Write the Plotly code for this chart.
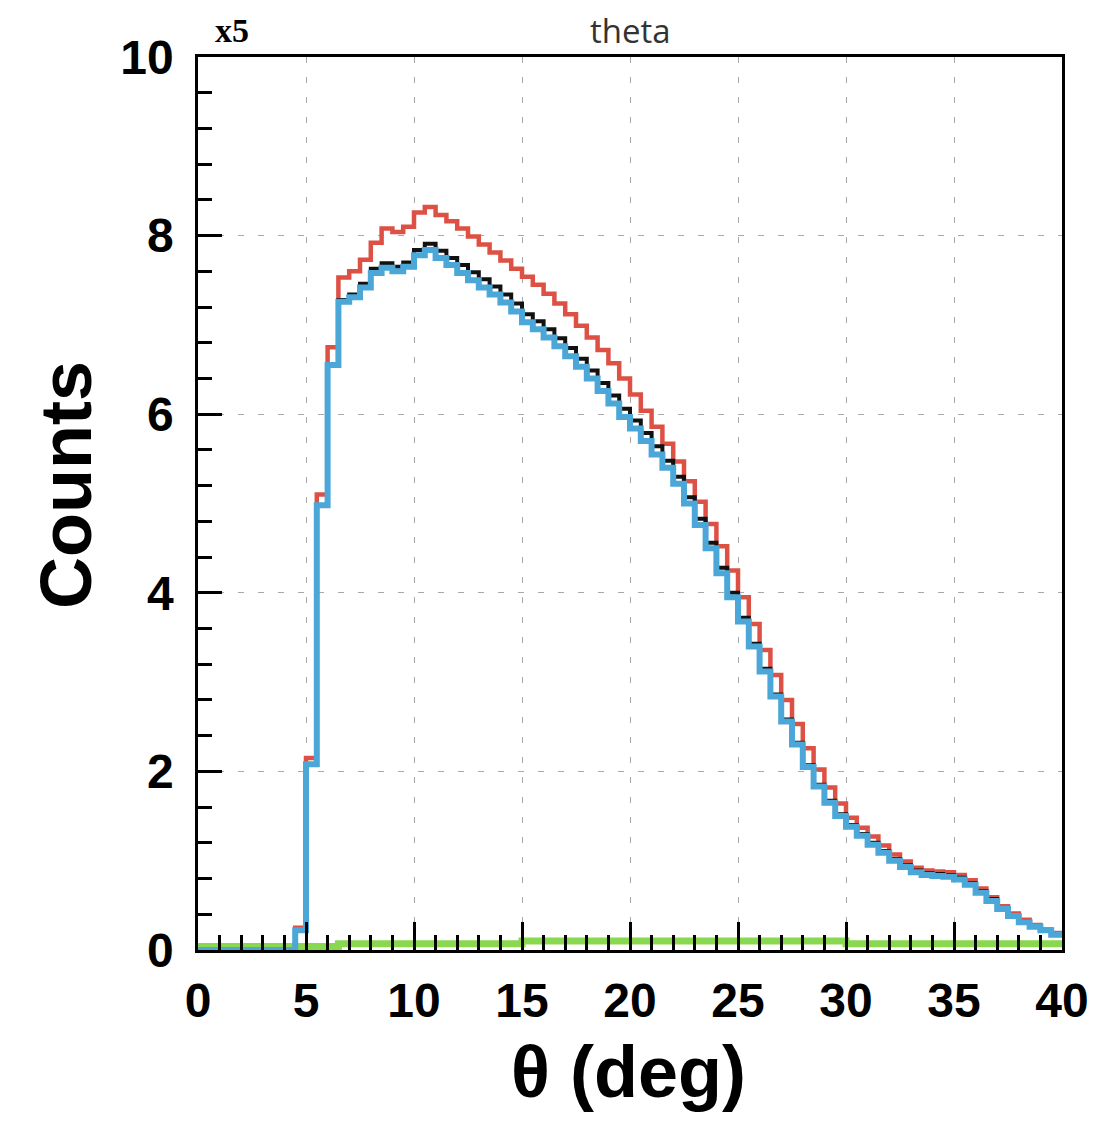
import plotly.graph_objects as go

# ---- data (bin low edges of 0.5 deg bins, 0-40 deg) ----
bin_low = [i * 0.5 for i in range(80)]
x_max = 40.0

blue_vals = [0, 0, 0, 0, 0, 0, 0, 0, 0,
             0.22, 2.08, 4.98, 6.55, 7.26, 7.31, 7.42, 7.58, 7.64, 7.60,
             7.65, 7.78, 7.84, 7.75, 7.67, 7.58, 7.50, 7.42, 7.34, 7.25,
             7.15, 7.03, 6.95, 6.86, 6.76, 6.65, 6.53, 6.40, 6.26, 6.12,
             5.97, 5.84, 5.70, 5.55, 5.40, 5.22, 5.00, 4.76, 4.50, 4.22,
             3.95, 3.68, 3.40, 3.12, 2.84, 2.56, 2.30, 2.05, 1.83, 1.65,
             1.50, 1.38, 1.28, 1.18, 1.09, 1.00, 0.93, 0.87, 0.84, 0.83,
             0.82, 0.79, 0.73, 0.64, 0.55, 0.46, 0.38, 0.31, 0.26, 0.22,
             0.17]

black_vals = [0, 0, 0, 0, 0, 0, 0, 0, 0,
              0.22, 2.08, 4.98, 6.55, 7.28, 7.34, 7.46, 7.63, 7.69, 7.65,
              7.70, 7.84, 7.91, 7.83, 7.75, 7.67, 7.59, 7.51, 7.43, 7.34,
              7.24, 7.12, 7.04, 6.95, 6.85, 6.74, 6.62, 6.49, 6.35, 6.21,
              6.06, 5.93, 5.79, 5.64, 5.48, 5.30, 5.07, 4.83, 4.56, 4.28,
              4.00, 3.72, 3.43, 3.15, 2.86, 2.58, 2.32, 2.07, 1.85, 1.67,
              1.52, 1.40, 1.30, 1.20, 1.11, 1.02, 0.95, 0.89, 0.86, 0.85,
              0.84, 0.81, 0.75, 0.66, 0.57, 0.47, 0.39, 0.32, 0.27, 0.22,
              0.18]

red_vals = [0, 0, 0, 0, 0, 0, 0, 0, 0,
            0.25, 2.15, 5.10, 6.75, 7.53, 7.60, 7.73, 7.92, 8.08, 8.04,
            8.10, 8.26, 8.32, 8.23, 8.16, 8.08, 7.99, 7.90, 7.81, 7.72,
            7.63, 7.54, 7.45, 7.35, 7.24, 7.12, 6.99, 6.86, 6.72, 6.57,
            6.40, 6.22, 6.04, 5.86, 5.67, 5.47, 5.25, 5.02, 4.77, 4.52,
            4.25, 3.95, 3.65, 3.36, 3.08, 2.80, 2.53, 2.26, 2.02, 1.82,
            1.64, 1.48, 1.37, 1.27, 1.17, 1.07, 0.99, 0.92, 0.89, 0.88,
            0.87, 0.84, 0.78, 0.69, 0.59, 0.49, 0.41, 0.34, 0.28, 0.23,
            0.19]

green_vals = [0.04] * 13 + [0.07] * 17 + [0.10] * 30 + [0.07] * 20

x_ticks = [0, 5, 10, 15, 20, 25, 30, 35, 40]
y_ticks = [0, 2, 4, 6, 8, 10]


def step(vals):
    return bin_low + [x_max], list(vals) + [vals[-1]]


fig = go.Figure()
series = [
    (green_vals, "#8ad850", 7),
    (red_vals, "#dd5145", 4.5),
    (black_vals, "#111111", 4),
    (blue_vals, "#4aa7d8", 6),
]
for vals, col, w in series:
    xs, ys = step(vals)
    fig.add_trace(go.Scatter(x=xs, y=ys, mode="lines", line_shape="hv",
                             line=dict(color=col, width=w), hoverinfo="skip"))

tickfont = dict(family="Liberation Sans", size=48, color="black", weight="bold")

fig.update_layout(
    width=1093, height=1114,
    margin=dict(l=190, r=39, t=49, b=172),
    plot_bgcolor="white", paper_bgcolor="white",
    showlegend=False,
    xaxis=dict(range=[0, 40], tickvals=x_ticks, ticks="inside", ticklen=28,
               tickwidth=2.5, tickcolor="black", showline=True, linecolor="black",
               linewidth=2.5, mirror=True, showgrid=True, gridcolor="#a8a8a8",
               griddash="6px,14px", gridwidth=1.2, zeroline=False,
               tickfont=tickfont, ticklabelstandoff=7,
               minor=dict(dtick=1, ticks="inside", ticklen=15, tickwidth=2.5,
                          tickcolor="black", showgrid=False)),
    yaxis=dict(range=[0, 10], tickvals=y_ticks, ticks="inside", ticklen=24,
               tickwidth=2.5, tickcolor="black", showline=True, linecolor="black",
               linewidth=2.5, mirror=True, showgrid=True, gridcolor="#a8a8a8",
               griddash="6px,14px", gridwidth=1.2, zeroline=False,
               tickfont=tickfont, ticklabelstandoff=12,
               minor=dict(dtick=0.4, ticks="inside", ticklen=14, tickwidth=2.5,
                          tickcolor="black", showgrid=False)),
    xaxis2=dict(range=[0, 40], overlaying="x", side="top", anchor="y",
                tickvals=x_ticks, ticks="inside", ticklen=15, tickwidth=2.5,
                tickcolor="black", showticklabels=False, showgrid=False,
                showline=False, zeroline=False),
    yaxis2=dict(range=[0, 10], overlaying="y", side="right", anchor="x",
                tickvals=y_ticks, ticks="inside", ticklen=15, tickwidth=2.5,
                tickcolor="black", showticklabels=False, showgrid=False,
                showline=False, zeroline=False),
    annotations=[
        dict(text="Counts", xref="paper", yref="paper", x=-0.1528, y=0.5207,
             textangle=-90, showarrow=False, xanchor="center", yanchor="middle",
             font=dict(family="Liberation Sans", size=72, color="black", weight="bold")),
        dict(text="θ (deg)", xref="paper", yref="paper", x=0.4988, y=-0.137,
             showarrow=False, xanchor="center", yanchor="middle",
             font=dict(family="Liberation Sans", size=72, color="black", weight="bold")),
        dict(text="theta", xref="paper", yref="paper", x=0.5, y=1.0302,
             showarrow=False, xanchor="center", yanchor="middle",
             font=dict(family="Open Sans", size=33, color="#333333")),
        dict(text="x5", xref="paper", yref="paper", x=0.0394, y=1.0302,
             showarrow=False, xanchor="center", yanchor="middle",
             font=dict(family="Liberation Serif", size=34, color="black", weight="bold")),
    ],
)

fig.write_html("out.html")
